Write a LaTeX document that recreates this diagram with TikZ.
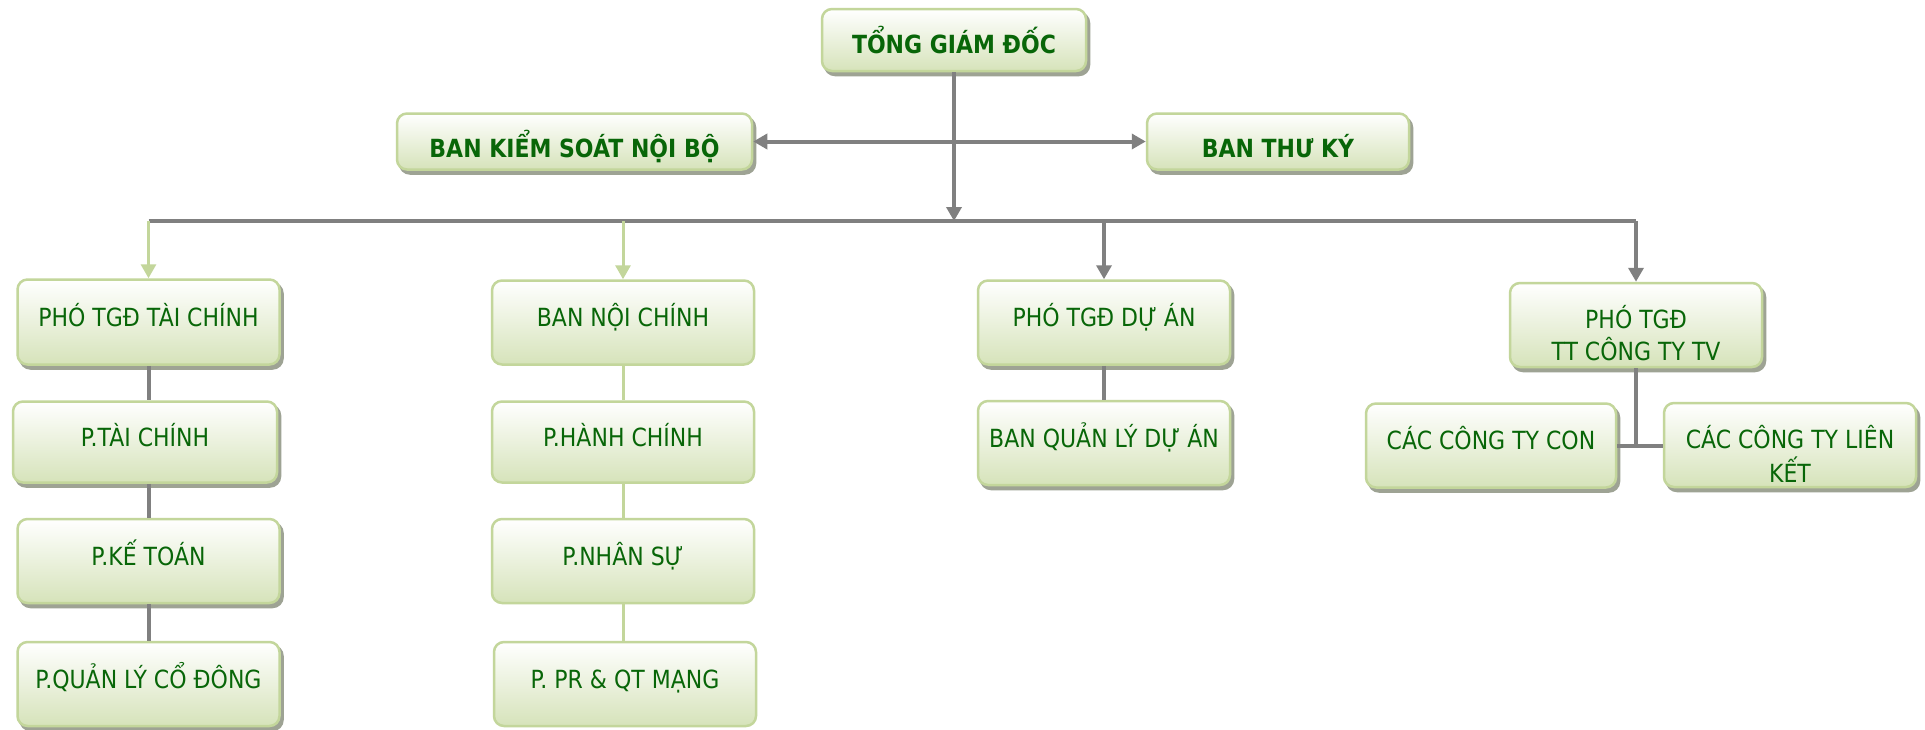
\documentclass[tikz,border=0pt]{standalone}
\usepackage{fontspec}
\setmainfont{DejaVu Sans}[FakeStretch=0.88]
\usetikzlibrary{arrows.meta}
\definecolor{txtg}{RGB}{8,102,8}
\definecolor{bord}{RGB}{195,214,155}
\definecolor{boxbot}{RGB}{214,227,186}
\definecolor{shad}{RGB}{158,163,148}
\definecolor{conn}{RGB}{128,128,128}
\begin{document}
\begin{tikzpicture}[x=1pt,y=-1pt,
  box/.style={draw=bord, line width=2.5pt, rounded corners=10pt,
    top color=white, bottom color=boxbot, text=txtg, inner sep=0pt,
    font=\fontsize{25pt}{30pt}\selectfont},
  shadowed/.style={preaction={fill=shad, draw=shad, line width=2.5pt,
    transform canvas={xshift=3pt,yshift=-4pt}}},
  sz/.style 2 args={minimum width=#1pt, minimum height=#2pt},
  tup/.style={text height=18pt, text depth=10pt},
  tdn/.style={text height=35pt, text depth=4pt},
  ttop/.style={text height=30pt, text depth=4pt},
  ttwo/.style={text height=26pt, text depth=20pt},
  gline/.style={draw=conn, line width=4pt},
  lline/.style={draw=bord, line width=3pt},
  tip/.style={-{Triangle[width=15pt,length=14pt]}},
  dtip/.style={{Triangle[width=15pt,length=14pt]}-{Triangle[width=15pt,length=14pt]}}
]
\useasboundingbox[fill=white] (0,0) rectangle (1925,729);

% top level
\node[box, shadowed, ttop, sz={264}{62}] (tgd) at (954,40) {\bfseries TỔNG GIÁM ĐỐC};
\node[box, shadowed, tdn, sz={355}{56}] (bks) at (574.5,141.5) {\bfseries BAN KIỂM SOÁT NỘI BỘ};
\node[box, shadowed, tdn, sz={262}{56}] (btk) at (1278,141.5) {\bfseries BAN THƯ KÝ};

% column 1
\node[box, shadowed, tup, sz={262}{85}] (c1a) at (148.5,322) {PHÓ TGĐ TÀI CHÍNH};
\node[box, shadowed, tup, sz={264}{81}] (c1b) at (145,442) {P.TÀI CHÍNH};
\node[box, shadowed, tup, sz={262}{84}] (c1c) at (148.5,561) {P.KẾ TOÁN};
\node[box, shadowed, tup, sz={262}{84}] (c1d) at (148.5,684) {P.QUẢN LÝ CỔ ĐÔNG};

% column 2
\node[box, tup, sz={262}{84}] (c2a) at (623,322.5) {BAN NỘI CHÍNH};
\node[box, tup, sz={262}{81}] (c2b) at (623,442) {P.HÀNH CHÍNH};
\node[box, tup, sz={262}{84}] (c2c) at (623,561) {P.NHÂN SỰ};
\node[box, tup, sz={262}{84}] (c2d) at (625,684) {P. PR \& QT MẠNG};

% column 3
\node[box, shadowed, tup, sz={252}{84}] (c3a) at (1104,322.5) {PHÓ TGĐ DỰ ÁN};
\node[box, shadowed, tup, sz={252}{84}] (c3b) at (1104,443) {BAN QUẢN LÝ DỰ ÁN};

% column 4
\node[box, shadowed, ttwo, sz={252}{84}] (c4a) at (1636,325)
  {\begin{tabular}[t]{@{}c@{}}PHÓ TGĐ\\TT CÔNG TY TV\end{tabular}};
\node[box, shadowed, tup, sz={250}{84}] (c4b) at (1491,445.5) {CÁC CÔNG TY CON};
\node[box, shadowed, ttwo, sz={252}{84}] (c4c) at (1790,445)
  {\begin{tabular}[t]{@{}c@{}}CÁC CÔNG TY LIÊN\\KẾT\end{tabular}};

% connectors
\coordinate (bus) at (954,221);
\draw[gline, dtip] (bks.east) -- (btk.west);
\draw[gline] (c1a.north |- bus) -- (c4a.north |- bus);
\draw[gline, tip] (tgd.south) -- (bus);
\draw[lline, tip] (c1a.north |- bus) -- (c1a.north);
\draw[lline, tip] (c2a.north |- bus) -- (c2a.north);
\draw[gline, tip] (c3a.north |- bus) -- (c3a.north);
\draw[gline, tip] (c4a.north |- bus) -- (c4a.north);

\draw[gline] (c1a.south) -- (c1a.south |- c1b.north);
\draw[gline] (c1a.south |- c1b.south) -- (c1a.south |- c1c.north);
\draw[gline] (c1c.south) -- (c1d.north);

\draw[lline] (c2a.south) -- (c2b.north);
\draw[lline] (c2b.south) -- (c2c.north);
\draw[lline] (c2c.south) -- (c2d.north -| c2c.south);

\draw[gline] (c3a.south) -- (c3b.north);

\draw[gline] (c4a.south) -- (c4a.south |- c4b.east);
\draw[gline] (c4b.east) -- (c4b.east -| c4c.west);
\end{tikzpicture}
\end{document}
